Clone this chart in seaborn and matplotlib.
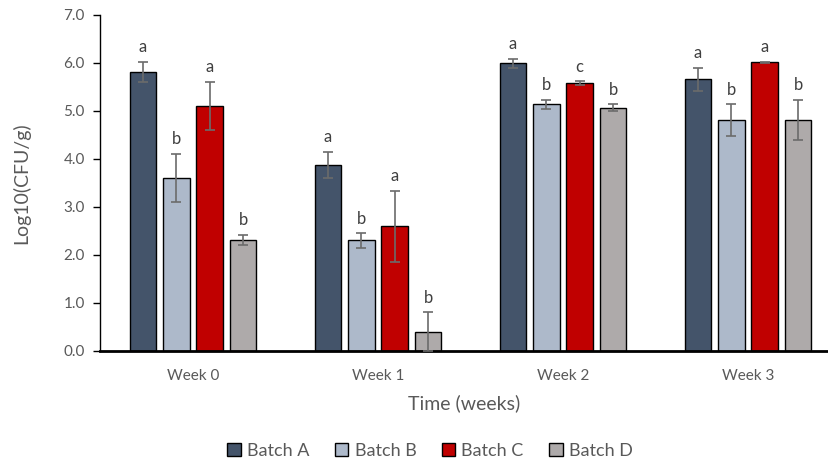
import matplotlib
matplotlib.use("Agg")
import matplotlib.pyplot as plt
from matplotlib.patches import Patch
import seaborn as sns
import pandas as pd

weeks = ["Week 0", "Week 1", "Week 2", "Week 3"]
batches = ["Batch A", "Batch B", "Batch C", "Batch D"]

batch_a = [5.82, 3.88, 5.99, 5.66]
batch_b = [3.61, 2.30, 5.14, 4.81]
batch_c = [5.11, 2.59, 5.58, 6.01]
batch_d = [2.31, 0.40, 5.07, 4.81]

err_a = [0.21, 0.27, 0.10, 0.24]
err_b = [0.50, 0.15, 0.09, 0.33]
err_c = [0.50, 0.75, 0.04, 0.02]
err_d = [0.11, 0.40, 0.07, 0.42]

letters_a = ["a", "a", "a", "a"]
letters_b = ["b", "b", "b", "b"]
letters_c = ["a", "a", "c", "a"]
letters_d = ["b", "b", "b", "b"]

colors = ["#44546A", "#ADB9CA", "#C00000", "#AEAAAA"]

values = [batch_a, batch_b, batch_c, batch_d]
errors = [err_a, err_b, err_c, err_d]
letters = [letters_a, letters_b, letters_c, letters_d]

rows = []
for b, vals in zip(batches, values):
    for w, v in zip(weeks, vals):
        rows.append({"Week": w, "Batch": b, "Log": v})
df = pd.DataFrame(rows)

sns.set_theme(style="white")
plt.rcParams["font.family"] = ["Lato", "DejaVu Sans"]

fig = plt.figure(figsize=(8.29, 4.62), dpi=100)
W, H = 829, 462
left_px, right_px, top_px, bottom_px = 100, 829, 15, 350.7
ax = fig.add_axes([left_px / W, 1 - bottom_px / H,
                   (right_px - left_px) / W, (bottom_px - top_px) / H])

sns.barplot(data=df, x="Week", y="Log", hue="Batch", order=weeks,
            hue_order=batches, palette=colors, width=0.722, gap=0.2,
            errorbar=None, edgecolor="black", linewidth=1.0,
            saturation=1, ax=ax, legend=False)

for cont, errs, labs in zip(ax.containers, errors, letters):
    for bar, e, lab in zip(cont, errs, labs):
        xc = bar.get_x() + bar.get_width() / 2
        h = bar.get_height()
        ax.errorbar(xc, h, yerr=e, fmt="none", ecolor="#6b6b6b",
                    elinewidth=1.2, capsize=3.5, capthick=1.2, zorder=4)
        ax.annotate(lab, (xc, h + e), xytext=(0, 10.5),
                    textcoords="offset points", ha="center", va="center",
                    fontsize=12, color="#404040")

ax.set_ylim(0, 7)
ax.set_xlim(-0.503, 3.438)
ax.set_yticks([0, 1, 2, 3, 4, 5, 6, 7])
ax.set_yticklabels([f"{v:.1f}" for v in range(8)])
ax.tick_params(axis="y", which="major", left=True, length=5, width=1,
               color="black", labelsize=11, labelcolor="#595959", pad=6)
ax.tick_params(axis="x", bottom=False, labelsize=11, labelcolor="#595959", pad=7)

for s in ["top", "right"]:
    ax.spines[s].set_visible(False)
ax.spines["left"].set_color("black")
ax.spines["left"].set_linewidth(1.0)
ax.spines["bottom"].set_color("black")
ax.spines["bottom"].set_linewidth(2.0)
ax.grid(False)

ax.set_xlabel("Time (weeks)", fontsize=14, color="#595959", labelpad=8)
ax.set_ylabel("Log10(CFU/g)", fontsize=14, color="#595959", labelpad=24)

handles = [Patch(facecolor=c, edgecolor="black", linewidth=1.0, label=b)
           for c, b in zip(colors, batches)]
fig.legend(handles=handles, loc="center", ncol=4, frameon=False,
           bbox_to_anchor=(430 / W, 1 - 451 / H), fontsize=13,
           labelcolor="#595959", handlelength=0.75, handleheight=0.75,
           handletextpad=0.35, columnspacing=1.4)

fig.savefig("out.png", dpi=100)
